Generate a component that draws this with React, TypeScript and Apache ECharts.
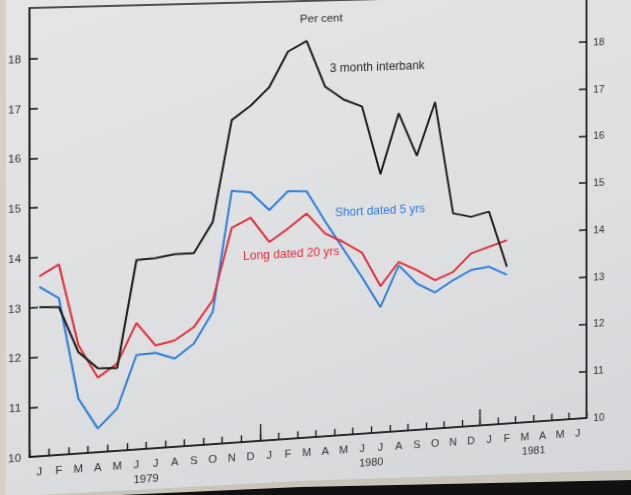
import React, { useEffect, useRef } from "react";
import * as echarts from "echarts";

// ---------- data ----------
const months = [
  "J", "F", "M", "A", "M", "J", "J", "A", "S", "O", "N", "D",
  "J", "F", "M", "A", "M", "J", "J", "A", "S", "O", "N", "D",
  "J", "F", "M", "A", "M", "J",
];
const interbank3m = [
  13.0, 12.98, 12.05, 11.7, 11.68, 13.85, 13.87, 13.93, 13.93, 14.55, 16.62, 16.9,
  17.27, 17.99, 18.2, 17.24, 16.96, 16.8, 15.38, 16.63, 15.73, 16.84, 14.49, 14.4,
  14.49, 13.31,
];
const shortDated5y = [
  13.41, 13.16, 11.11, 10.48, 10.86, 11.92, 11.94, 11.8, 12.08, 12.71, 15.17, 15.12,
  14.74, 15.11, 15.09, 14.45, 13.85, 13.25, 12.61, 13.46, 13.06, 12.85, 13.09, 13.28,
  13.33, 13.14,
];
const longDated20y = [
  13.62, 13.84, 12.19, 11.51, 11.77, 12.57, 12.09, 12.17, 12.42, 12.95, 14.41, 14.6,
  14.08, 14.34, 14.63, 14.2, 14.0, 13.76, 13.05, 13.53, 13.34, 13.11, 13.26, 13.63,
  13.75, 13.87,
];
const yTicks = [10, 11, 12, 13, 14, 15, 16, 17, 18];
const yearLabels = ["1979", "1980", "1981"];
const yearLabelPos = [6, 18, 27];
const yearBoundaries = [12, 24];

// ---------- geometry (flat chart -> photographed page) ----------
const W = 631;
const H = 495;
const srcPts = [[28, 457], [28, 59], [585, 457], [585, 59]];
const dstPts = [[29.5, 457], [29.5, 59], [586.5, 418], [586.5, 42]];

function solveHomography(src: number[][], dst: number[][]) {
  const A: number[][] = [];
  const b: number[] = [];
  for (let i = 0; i < 4; i++) {
    const [x, y] = src[i];
    const [X, Y] = dst[i];
    A.push([x, y, 1, 0, 0, 0, -X * x, -X * y]);
    b.push(X);
    A.push([0, 0, 0, x, y, 1, -Y * x, -Y * y]);
    b.push(Y);
  }
  const n = 8;
  for (let c = 0; c < n; c++) {
    let p = c;
    for (let r = c + 1; r < n; r++) if (Math.abs(A[r][c]) > Math.abs(A[p][c])) p = r;
    [A[c], A[p]] = [A[p], A[c]];
    [b[c], b[p]] = [b[p], b[c]];
    for (let r = 0; r < n; r++) {
      if (r === c) continue;
      const f = A[r][c] / A[c][c];
      for (let k = c; k < n; k++) A[r][k] -= f * A[c][k];
      b[r] -= f * b[c];
    }
  }
  const h = b.map((v, i) => v / A[i][i]);
  return [h[0], h[1], h[2], h[3], h[4], h[5], h[6], h[7], 1];
}

const Hm = solveHomography(srcPts, dstPts);

function invert3(m: number[]) {
  const [a, b, c, d, e, f, g, h, i] = m;
  const A = e * i - f * h, B = -(d * i - f * g), C = d * h - e * g;
  const D = -(b * i - c * h), E = a * i - c * g, F = -(a * h - b * g);
  const G = b * f - c * e, Hh = -(a * f - c * d), I = a * e - b * d;
  const det = a * A + b * B + c * C;
  return [A / det, D / det, G / det, B / det, E / det, Hh / det, C / det, F / det, I / det];
}
const Hinv = invert3(Hm);
function toFlat(X: number, Y: number) {
  const m = Hinv;
  const w = m[6] * X + m[7] * Y + m[8];
  return [(m[0] * X + m[1] * Y + m[2]) / w, (m[3] * X + m[4] * Y + m[5]) / w];
}
const cssTransform = `matrix3d(${Hm[0]},${Hm[3]},0,${Hm[6]},${Hm[1]},${Hm[4]},0,${Hm[7]},0,0,1,0,${Hm[2]},${Hm[5]},0,${Hm[8]})`;

const FONT = "'Liberation Sans', Arial, Helvetica, sans-serif";
const INK = "#1c1c1c";
const BLUE = "#2f7edb";
const RED = "#e3303c";

function label(text: string, X: number, Y: number, color: string, size = 12) {
  const [x, y] = toFlat(X, Y);
  return {
    type: "text",
    x,
    y,
    silent: true,
    style: { text, fill: color, fontSize: size, fontFamily: FONT, align: "left", verticalAlign: "middle" },
  };
}

export default function App() {
  const ref = useRef<HTMLDivElement>(null);

  useEffect(() => {
    if (!ref.current) return;
    const chart = echarts.init(ref.current, null, { renderer: "svg" });
    const yAxisBase = (pos: "left" | "right", margin: number) => ({
      type: "value",
      position: pos,
      min: 10,
      max: 10 + (457 - 8) / 49.75,
      splitLine: { show: false },
      axisLine: { show: true, onZero: false, lineStyle: { color: INK, width: 1.5 } },
      axisTick: { show: true, inside: true, length: 8, customValues: yTicks, lineStyle: { color: INK, width: 1.6 } },
      axisLabel: { show: true, customValues: yTicks, margin, fontSize: 11, color: "#333", fontFamily: FONT },
    });
    chart.setOption({
      animation: false,
      backgroundColor: "transparent",
      grid: {
        left: 28,
        right: W - 585,
        top: 8,
        bottom: H - 457,
        containLabel: false,
        show: true,
        borderColor: INK,
        borderWidth: 1.5,
        backgroundColor: "transparent",
      },
      xAxis: [
        {
          type: "category",
          data: months,
          boundaryGap: true,
          position: "bottom",
          axisLine: { show: true, onZero: false, lineStyle: { color: INK, width: 1.5 } },
          axisTick: { show: true, inside: true, length: 7, interval: 0, lineStyle: { color: INK, width: 1.4 } },
          axisLabel: { interval: 0, margin: 10, fontSize: 11, color: "#333", fontFamily: FONT },
          splitLine: { show: false },
        },
        {
          type: "value",
          position: "bottom",
          min: 0,
          max: months.length,
          axisLine: { show: false, onZero: false },
          splitLine: { show: false },
          axisTick: { show: true, inside: true, length: 17, customValues: yearBoundaries, lineStyle: { color: INK, width: 1.4 } },
          axisLabel: {
            show: true,
            customValues: yearLabelPos,
            margin: 25,
            fontSize: 11,
            color: "#333",
            fontFamily: FONT,
            formatter: (v: number) => yearLabels[yearLabelPos.indexOf(v)] ?? "",
          },
        },
      ],
      yAxis: [yAxisBase("left", 8), yAxisBase("right", 7)],
      series: [
        {
          name: "3 month interbank",
          type: "line",
          data: interbank3m,
          symbol: "none",
          lineStyle: { color: INK, width: 2 },
          itemStyle: { color: INK },
          z: 3,
        },
        {
          name: "Short dated 5 yrs",
          type: "line",
          data: shortDated5y,
          symbol: "none",
          lineStyle: { color: BLUE, width: 2 },
          itemStyle: { color: BLUE },
          z: 2,
        },
        {
          name: "Long dated 20 yrs",
          type: "line",
          data: longDated20y,
          symbol: "none",
          lineStyle: { color: RED, width: 2 },
          itemStyle: { color: RED },
          z: 2,
        },
      ],
      graphic: [
        label("Per cent", 300, 19, "#2a2a2a", 11.5),
        label("3 month interbank", 330, 68, "#2a2a2a", 12),
        label("Short dated 5 yrs", 335, 213, BLUE, 12),
        label("Long dated 20 yrs", 243, 256, RED, 12),
      ],
    });
    return () => chart.dispose();
  }, []);

  return (
    <div
      style={{
        position: "absolute",
        left: 0,
        top: 0,
        width: W,
        height: H,
        overflow: "hidden",
        background: "linear-gradient(160deg, #e4e5e6 0%, #dddfe1 55%, #d3d5d8 100%)",
      }}
    >
      <div style={{ position: "absolute", left: 0, top: 0, width: 6, height: H, background: "#d6d1c4" }} />
      <div
        ref={ref}
        style={{
          position: "absolute",
          left: 0,
          top: 0,
          width: W,
          height: H,
          transformOrigin: "0 0",
          transform: cssTransform,
        }}
      />
      <div
        style={{
          position: "absolute",
          left: 0,
          top: 0,
          width: W,
          height: H,
          background: "#c9c5ba",
          clipPath: "polygon(40px 495px, 300px 481px, 631px 470px, 631px 480px, 300px 487px, 120px 495px)",
        }}
      />
      <div
        style={{
          position: "absolute",
          left: 0,
          top: 0,
          width: W,
          height: H,
          background: "#111",
          clipPath: "polygon(120px 495px, 300px 487px, 631px 480px, 631px 495px)",
        }}
      />
    </div>
  );
}
